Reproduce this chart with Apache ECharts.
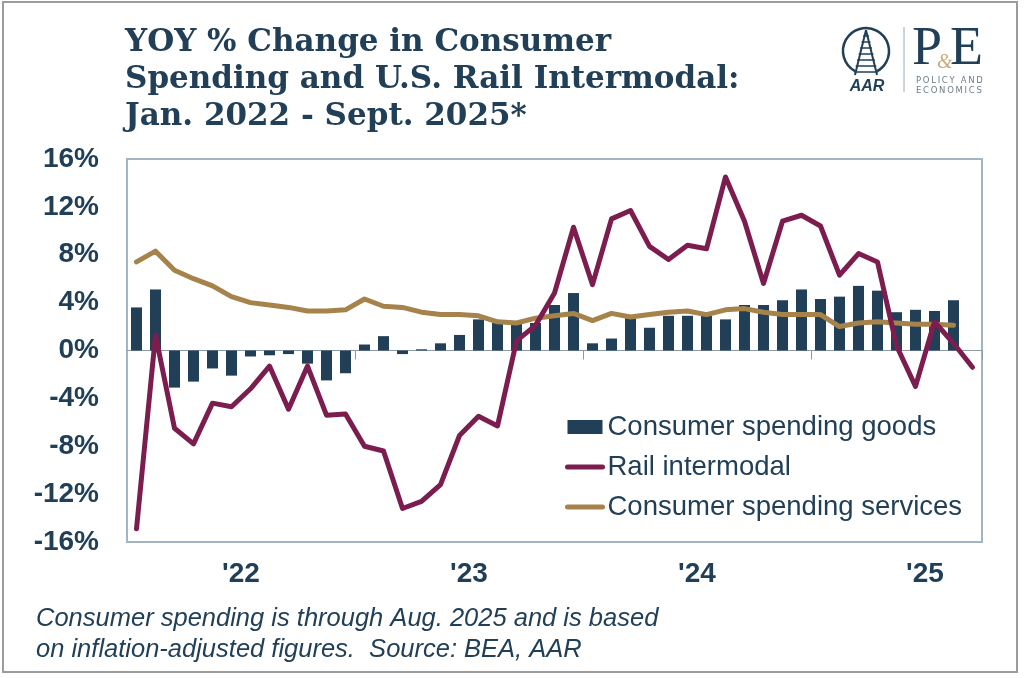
<!DOCTYPE html>
<html>
<head>
<meta charset="utf-8">
<script src="https://cdn.jsdelivr.net/npm/echarts@6/dist/echarts.min.js"></script>
<style>
  html, body { margin: 0; padding: 0; background: #fff; }
  #railChart { width: 1024px; height: 678px; }
</style>
</head>
<body>
<div id="railChart"></div>
<script>
// months, Jan 2022 - Sept 2025
var months = [
    'Jan-22','Feb-22','Mar-22','Apr-22','May-22','Jun-22','Jul-22','Aug-22','Sep-22','Oct-22','Nov-22','Dec-22',
    'Jan-23','Feb-23','Mar-23','Apr-23','May-23','Jun-23','Jul-23','Aug-23','Sep-23','Oct-23','Nov-23','Dec-23',
    'Jan-24','Feb-24','Mar-24','Apr-24','May-24','Jun-24','Jul-24','Aug-24','Sep-24','Oct-24','Nov-24','Dec-24',
    'Jan-25','Feb-25','Mar-25','Apr-25','May-25','Jun-25','Jul-25','Aug-25','Sep-25'
];
// year labels shown under the middle of each year
var yearLabels = { 'Jul-22': "'22", 'Jul-23': "'23", 'Jul-24': "'24", 'Jul-25': "'25" };
var yTicks = [-16, -12, -8, -4, 0, 4, 8, 12, 16];

// consumer spending goods (through Aug 2025)
var goods = [
    3.6, 5.1, -3.1, -2.6, -1.5, -2.1, -0.5, -0.4, -0.3, -1.1, -2.5, -1.9,
    0.5, 1.2, -0.3, 0.1, 0.6, 1.3, 2.6, 2.3, 2.3, 2.3, 3.8, 4.8,
    0.6, 1.0, 2.7, 1.9, 2.9, 2.9, 2.9, 2.6, 3.8, 3.8, 4.2, 5.1,
    4.3, 4.5, 5.4, 5.0, 3.2, 3.4, 3.3, 4.2
];
// rail intermodal (through Sept 2025)
var rail = [
    -14.9, 1.3, -6.5, -7.8, -4.4, -4.7, -3.2, -1.3, -4.9, -1.3, -5.4, -5.3,
    -8.0, -8.4, -13.2, -12.6, -11.2, -7.1, -5.5, -6.3, 0.8, 2.1, 4.8, 10.3,
    5.5, 11.0, 11.7, 8.7, 7.6, 8.8, 8.5, 14.5, 10.8, 5.6, 10.8, 11.3,
    10.4, 6.3, 8.1, 7.4, 0.4, -3.0, 2.4, 0.6, -1.4
];
// consumer spending services (through Aug 2025)
var services = [
    7.4, 8.3, 6.7, 6.0, 5.4, 4.5, 4.0, 3.8, 3.6, 3.3, 3.3, 3.4,
    4.3, 3.7, 3.6, 3.2, 3.0, 3.0, 2.9, 2.4, 2.3, 2.7, 2.9, 3.1,
    2.5, 3.1, 2.8, 3.0, 3.2, 3.3, 3.0, 3.4, 3.5, 3.2, 3.0, 3.0,
    3.0, 2.0, 2.3, 2.4, 2.3, 2.2, 2.2, 2.1
];

var navy = '#213f57';
var maroon = '#7c1d4f';
var gold = '#a6834b';
var frame = '#a3b4c3';

var chart = echarts.init(document.getElementById('railChart'));

//AAR / P&E logo pieces
var thin = '\u2009';
var logo = [
    { type: 'arc', shape: { cx: 866, cy: 51, r: 23, startAngle: Math.PI / 2 + 0.5, endAngle: Math.PI * 2.5 - 0.5 },
      style: { stroke: navy, lineWidth: 2.5, fill: null } },
    { type: 'line', shape: { x1: 866, y1: 30, x2: 855, y2: 75 }, style: { stroke: navy, lineWidth: 2 } },
    { type: 'line', shape: { x1: 866, y1: 30, x2: 877, y2: 75 }, style: { stroke: navy, lineWidth: 2 } },
    { type: 'text', style: { x: 867, y: 87, text: 'AAR', font: 'italic bold 16px "Liberation Sans"', fill: navy, align: 'center', verticalAlign: 'middle' } },
    { type: 'line', shape: { x1: 904, y1: 27, x2: 904, y2: 92 }, style: { stroke: '#9aa8b5', lineWidth: 1 } },
    { type: 'text', style: { x: 912, y: 50, text: 'P', font: '54px "Liberation Serif"', fill: navy, verticalAlign: 'middle' } },
    { type: 'text', style: { x: 950, y: 50, text: 'E', font: '54px "Liberation Serif"', fill: navy, verticalAlign: 'middle' } },
    { type: 'text', style: { x: 937, y: 63, text: '&', font: 'italic 20px "Liberation Serif"', fill: '#c9a979', verticalAlign: 'middle' } },
    { type: 'text', style: { x: 916, y: 81, text: 'POLICY AND'.split('').join(thin), font: '8.5px "DejaVu Sans"', fill: '#6d7d8b', verticalAlign: 'middle' } },
    { type: 'text', style: { x: 916, y: 91, text: 'ECONOMICS'.split('').join(thin), font: '8.5px "DejaVu Sans"', fill: '#6d7d8b', verticalAlign: 'middle' } }
];
// rungs of the track
[36, 42, 48, 54, 60, 66, 72].forEach(function (y) {
    var half = (y - 30) * 11 / 45 + 1.5;
    logo.push({ type: 'line', shape: { x1: 866 - half, y1: y, x2: 866 + half, y2: y }, style: { stroke: navy, lineWidth: 1.5 } });
});

var option = {
    backgroundColor: '#fff',
    animation: false,
    title: {
        text: 'YOY % Change in Consumer\nSpending and U.S. Rail Intermodal:\nJan. 2022 - Sept. 2025*',
        left: 120,
        top: 19,
        textStyle: {
            fontFamily: 'DejaVu Serif',
            fontWeight: 'bold',
            fontSize: 31,
            lineHeight: 37,
            color: navy
        }
    },
    legend: {
        orient: 'vertical',
        left: 565,
        top: 413,
        padding: 0,
        itemWidth: 35,
        itemHeight: 14,
        itemGap: 12,
        data: [
            { name: 'Consumer spending goods', icon: 'rect' },
            { name: 'Rail intermodal', itemStyle: { opacity: 0 }, lineStyle: { width: 5, cap: 'round' } },
            { name: 'Consumer spending services', itemStyle: { opacity: 0 }, lineStyle: { width: 5, cap: 'round' } }
        ],
        textStyle: { fontFamily: 'Liberation Sans', fontSize: 27.5, color: navy }
    },
    grid: {
        left: 127,
        right: 42,
        top: 159,
        bottom: 136,
        show: true,
        borderColor: frame,
        borderWidth: 2
    },
    xAxis: [
        {
            // labels along the bottom
            type: 'category',
            data: months,
            axisLine: { show: false, onZero: false },
            axisTick: { show: false },
            axisLabel: {
                interval: 0,
                margin: 18,
                padding: [0, 19, 0, 0],
                fontFamily: 'Liberation Sans',
                fontWeight: 'bold',
                fontSize: 28,
                color: navy,
                formatter: function (v) { return yearLabels[v] || ''; }
            }
        },
        {
            // zero line with year ticks
            type: 'category',
            data: months,
            position: 'bottom',
            axisLine: { onZero: true, lineStyle: { color: '#8c9aa6', width: 1 } },
            axisTick: {
                show: true,
                length: 9,
                interval: function (i) { return i > 0 && i % 12 === 0; },
                lineStyle: { color: '#8c9aa6', width: 1 }
            },
            axisLabel: { show: false }
        }
    ],
    yAxis: {
        type: 'value',
        min: yTicks[0],
        max: yTicks[yTicks.length - 1],
        interval: 4,
        axisLine: { show: false },
        axisTick: { show: false },
        splitLine: { show: false },
        axisLabel: {
            margin: 28,
            fontFamily: 'Liberation Sans',
            fontWeight: 'bold',
            fontSize: 28,
            color: navy,
            formatter: '{value}%'
        }
    },
    series: [
        {
            name: 'Consumer spending goods',
            type: 'bar',
            barWidth: 11,
            itemStyle: { color: navy },
            data: goods
        },
        {
            name: 'Consumer spending services',
            type: 'line',
            symbol: 'none',
            itemStyle: { color: gold },
            lineStyle: { color: gold, width: 5, cap: 'round', join: 'round' },
            data: services
        },
        {
            name: 'Rail intermodal',
            type: 'line',
            symbol: 'none',
            itemStyle: { color: maroon },
            lineStyle: { color: maroon, width: 5, cap: 'round', join: 'round' },
            data: rail
        }
    ],
    graphic: [
        { type: 'rect', shape: { x: 3, y: 2, width: 1014, height: 670 }, style: { stroke: '#9c9c9c', lineWidth: 2, fill: null } },
        {
            type: 'text',
            left: 36,
            top: 603,
            style: {
                text: 'Consumer spending is through Aug. 2025 and is based\non inflation-adjusted figures.  Source: BEA, AAR',
                font: 'italic 25.5px "Liberation Sans"',
                lineHeight: 31,
                fill: navy
            }
        },
        { type: 'group', children: logo }
    ]
};
chart.setOption(option);
</script>
</body>
</html>
